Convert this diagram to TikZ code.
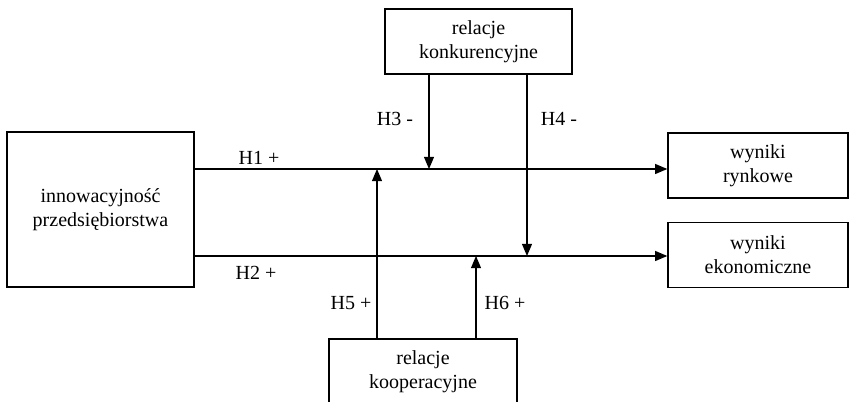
\documentclass[tikz,border=0pt]{standalone}
\usepackage{fontspec}
\setmainfont{Liberation Serif}
\usetikzlibrary{arrows}

\begin{document}
\begin{tikzpicture}[x=0.75pt,y=-0.75pt,>=triangle 45,
    font=\fontsize{15}{18}\selectfont,
    box/.style={draw,line width=1.1pt,align=center,inner sep=0pt,minimum height=48.75pt},
    link/.style={->,line width=1.1pt}]
      \useasboundingbox (0,0) rectangle (849,402);
      \clip (0,0) rectangle (849,402);
      \node[box,minimum width=140.25pt,minimum height=116.25pt] (inn) at (100.5,209.5) {innowacyjność\\przedsiębiorstwa};
      \node[box,minimum width=140.25pt] (konk) at (478.5,41.5) {relacje\\konkurencyjne};
      \node[box,minimum width=141pt] (koop) at (423,371.5) {relacje\\kooperacyjne};
      \node[box,minimum width=135pt] (ryn) at (758,165.5) {wyniki\\rynkowe};
      \node[box,minimum width=135pt] (eko) at (758,255) {wyniki\\ekonomiczne};

      \coordinate (m3) at (429,169);
      \coordinate (m4) at (527,256);
      \coordinate (m5) at (377,169);
      \coordinate (m6) at (476,256);

      \draw[link] (inn.east |- m5) -- (ryn.west |- m5);
      \draw[link] (inn.east |- m6) -- (eko.west |- m6);
      \draw[link] (konk.south -| m3) -- (m3);
      \draw[link] (konk.south -| m4) -- (m4);
      \draw[link] (koop.north -| m5) -- (m5);
      \draw[link] (koop.north -| m6) -- (m6);

      \node (h1) at (259,158) {H1 +};
      \node (h2) at (256,273) {H2 +};
      \node (h3) at (395,119) {H3 -};
      \node (h4) at (559,119) {H4 -};
      \node (h5) at (351,303) {H5 +};
      \node (h6) at (505,303) {H6 +};
\end{tikzpicture}
\end{document}
